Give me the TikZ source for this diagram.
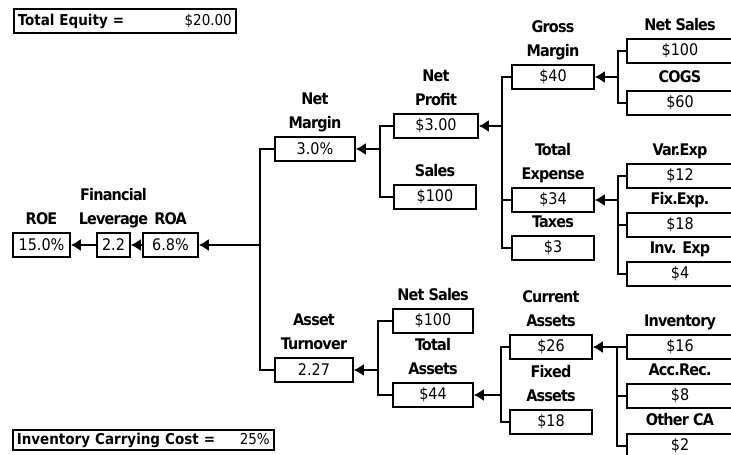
\documentclass[tikz,border=0pt]{standalone}
\usepackage{fontspec}
\setmainfont{DejaVu Sans Condensed}
\newfontfamily\tightfont{DejaVu Sans Condensed}[LetterSpace=-5]
\usetikzlibrary{arrows.meta, positioning, calc}

\begin{document}
\begin{tikzpicture}[x=1pt, y=-1pt, node distance=7pt, line width=1.6pt, >={Latex[length=10pt, width=12pt]},
  val/.style={draw, minimum height=24pt, inner sep=0pt, font=\fontsize{16}{18}\selectfont},
  edge/.style={val, minimum width=106pt},
  lbl/.style={align=center, inner sep=0pt, text depth=0pt, font=\tightfont\fontsize{16}{24}\selectfont\bfseries},
  note/.style={draw, anchor=west, align=left, inner xsep=4pt, inner ysep=0pt, font=\fontsize{15}{17}\selectfont}]
\path[use as bounding box, fill=white] (0,0) rectangle (731,455);
% notes
\node[note, text width=214pt, minimum height=24pt] (equity) at (13,21) {\textbf{Total Equity =}\hfill\$20.00};
\node[note, text width=253pt, minimum height=20pt] (carry) at (12,440) {\textbf{Inventory Carrying Cost =}\hfill 25\%};
% level 0
\node[val, minimum width=57pt] (roe) at (41.5,245) {15.0\%};
\node[val, minimum width=33pt] (lev) at (113.5,245) {2.2};
\node[val, minimum width=55pt] (roa) at (170.5,245) {6.8\%};
\node[lbl, above=of roe] (roelbl) {ROE};
\node[lbl, above=of lev] (levlbl) {Financial\\Leverage};
\node[lbl, above=of roa] (roalbl) {ROA};
% level 1
\node[val, minimum width=80pt] (nm) at (315,149) {3.0\%};
\node[val, minimum width=78pt] (at) at (314,370) {2.27};
\node[lbl, above=of nm] (nmlbl) {Net\\Margin};
\node[lbl, above=of at] (atlbl) {Asset\\Turnover};
% level 2
\node[val, minimum width=84pt] (np) at (436,126) {\$3.00};
\node[val, minimum width=82pt] (sales) at (435,197) {\$100};
\node[val, minimum width=80pt] (ns) at (433,321) {\$100};
\node[val, minimum width=80pt] (ta) at (433,395) {\$44};
\node[lbl, above=of np] (nplbl) {Net\\Profit};
\node[lbl, above=of sales] (saleslbl) {Sales};
\node[lbl, above=of ns] (nslbl) {Net Sales};
\node[lbl, above=of ta] (talbl) {Total\\Assets};
% level 3
\node[val, minimum width=82pt] (gm) at (553,77) {\$40};
\node[val, minimum width=82pt] (te) at (553,200) {\$34};
\node[val, minimum width=82pt] (tax) at (553,248) {\$3};
\node[val, minimum width=82pt] (ca) at (551,347) {\$26};
\node[val, minimum width=82pt] (fa) at (551,422) {\$18};
\node[lbl, above=of gm] (gmlbl) {Gross\\Margin};
\node[lbl, above=of te] (telbl) {Total\\Expense};
\node[lbl, above=of tax] (taxlbl) {Taxes};
\node[lbl, above=of ca] (calbl) {Current\\Assets};
\node[lbl, above=of fa] (falbl) {Fixed\\Assets};
% level 4
\node[edge] (sales2) at (680,51) {\$100};
\node[edge] (cogs) at (680,103) {\$60};
\node[edge] (var) at (680,176) {\$12};
\node[edge] (fix) at (680,225) {\$18};
\node[edge] (inv) at (680,274) {\$4};
\node[edge] (stock) at (680,347) {\$16};
\node[edge] (ar) at (680,396) {\$8};
\node[edge] (oca) at (680,446) {\$2};
\node[lbl, above=of sales2] (sales2lbl) {Net Sales};
\node[lbl, above=of cogs] (cogslbl) {COGS};
\node[lbl, above=of var] (varlbl) {Var.Exp};
\node[lbl, above=of fix] (fixlbl) {Fix.Exp.};
\node[lbl, above=of inv] (invlbl) {Inv. Exp};
\node[lbl, above=of stock] (stocklbl) {Inventory};
\node[lbl, above=of ar] (arlbl) {Acc.Rec.};
\node[lbl, above=of oca] (ocalbl) {Other CA};
% joints
\coordinate (jroa) at (260,245);
\coordinate (jnm) at (380,149);
\coordinate (jat) at (378,370);
\coordinate (jnp) at (502,126);
\coordinate (jta) at (501,395);
\coordinate (jgm) at (618,77);
\coordinate (jte) at (618,200);
\coordinate (jca) at (617,347);
% connectors
\draw[->] (lev) -- (roe);
\draw[->] (roa) -- (lev);
\draw (nm.west) -| (jroa) |- (at.west);
\draw[->] (jroa) -- (roa);
\draw (np.west) -| (jnm) |- (sales.west);
\draw[->] (jnm) -- (nm);
\draw (ns.west) -| (jat) |- (ta.west);
\draw[->] (jat) -- (at);
\draw (gm.west) -| (jnp) |- (tax.west);
\draw (jnp |- te.west) -- (te.west);
\draw[->] (jnp) -- (np);
\draw (ca.west) -| (jta) |- (fa.west);
\draw[->] (jta) -- (ta);
\draw (sales2.west) -| (jgm) |- (cogs.west);
\draw[->] (jgm) -- (gm);
\draw (var.west) -| (jte) |- (inv.west);
\draw (jte |- fix.west) -- (fix.west);
\draw[->] (jte) -- (te);
\draw (stock.west) -- (jca) |- (oca.west);
\draw (jca |- ar.west) -- (ar.west);
\draw[->] (jca) -- (ca);
\end{tikzpicture}
\end{document}
